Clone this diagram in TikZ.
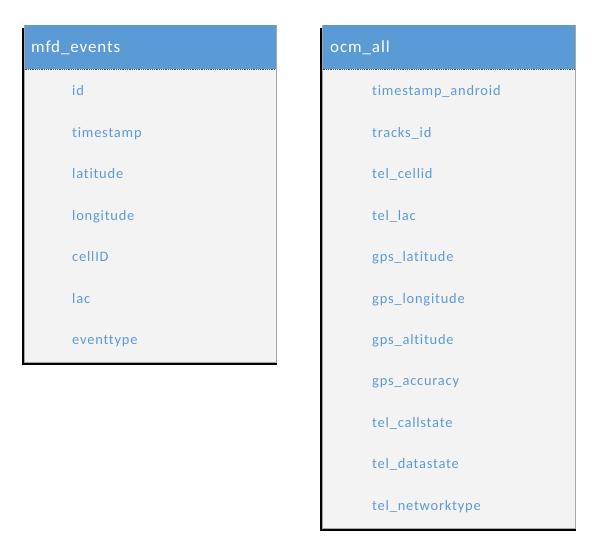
\documentclass[tikz,border=0pt]{standalone}
\usepackage{fontspec}
\setmainfont{Carlito}
\newfontfamily\spacedfont[LetterSpace=5.5,Ligatures={NoCommon}]{Carlito}
\definecolor{hdr}{HTML}{5B9BD5}
\definecolor{body}{HTML}{F3F3F3}
\definecolor{itm}{HTML}{5B9BD5}
\tikzset{
  tbl/.style={fill=body,draw=gray!70,line width=0.6bp},
  shadowbox/.style={fill=black,draw=none},
  hdrbox/.style={fill=hdr,draw=none},
  hdrtext/.style={anchor=base west,text=white,font=\spacedfont\fontsize{17}{19}\selectfont,inner sep=0pt},
  field/.style={anchor=base west,text=itm,font=\spacedfont\fontsize{14.5}{17}\selectfont,inner sep=0pt},
  sep/.style={densely dotted,line width=0.8bp,draw=black!70}
}
\begin{document}
\begin{tikzpicture}[x=1bp,y=-1bp]
\useasboundingbox (0,0) rectangle (600,550);
% left table
\fill[shadowbox] (22,28) rectangle (277,365);
\draw[tbl] (24,25) rectangle (276,362);
\fill[hdrbox] (24.5,25.5) rectangle (275.5,69);
\draw[sep] (24.5,69.5) -- (275.5,69.5);
\node[hdrtext] (lt) at (31,52.7) {mfd\_events};
\foreach \t [count=\i] in {id,timestamp,latitude,longitude,cellID,lac,eventtype}
  \node[field] (l\i) at (72,{54.3+41.45*\i}) {\t};
% right table
\fill[shadowbox] (320,28) rectangle (576,531);
\draw[tbl] (322,25) rectangle (575,528);
\fill[hdrbox] (322.5,25.5) rectangle (574.5,69);
\draw[sep] (322.5,69.5) -- (574.5,69.5);
\node[hdrtext] (rt) at (330,52.7) {ocm\_all};
\foreach \t [count=\i] in {timestamp\_android,tracks\_id,tel\_cellid,tel\_lac,gps\_latitude,gps\_longitude,gps\_altitude,gps\_accuracy,tel\_callstate,tel\_datastate,tel\_networktype}
  \node[field] (r\i) at (372,{54.3+41.45*\i}) {\t};
\end{tikzpicture}
\end{document}
